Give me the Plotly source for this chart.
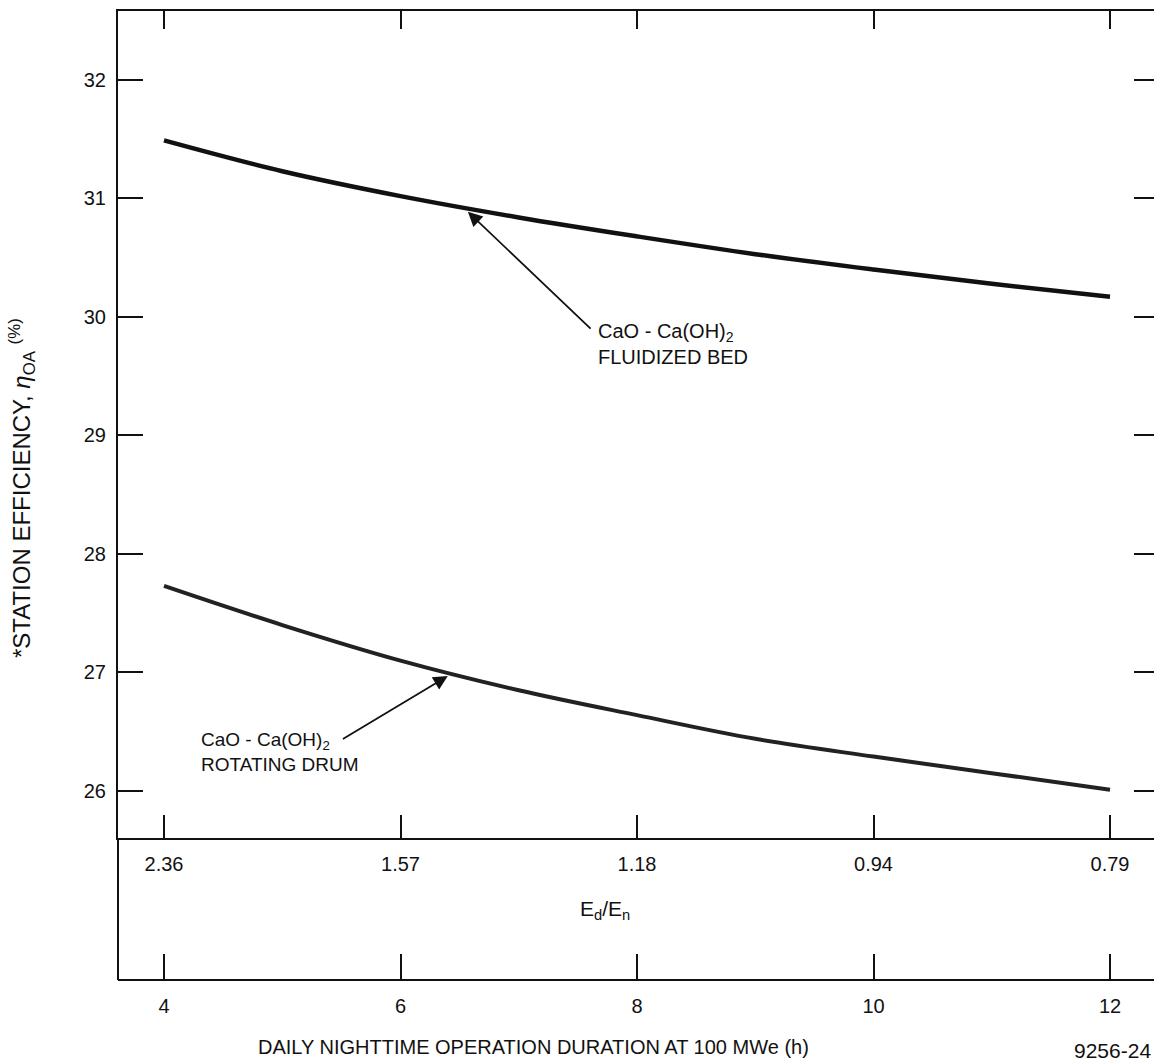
import numpy as np
import plotly.graph_objects as go

# Daily nighttime operation duration at 100 MWe (h)
hours = [4, 5, 6, 7, 8, 9, 10, 11, 12]

# Station efficiency (%) for the two CaO - Ca(OH)2 storage concepts
fluidized_bed = [31.49, 31.23, 31.02, 30.84, 30.68, 30.53, 30.40, 30.28, 30.17]
rotating_drum = [27.73, 27.40, 27.10, 26.85, 26.64, 26.44, 26.29, 26.15, 26.01]

# Ed/En ratio shown at the same duration ticks
ratio_tick_hours = [4, 6, 8, 10, 12]
ratio_tick_labels = ["2.36", "1.57", "1.18", "0.94", "0.79"]

eff_ticks = [26, 27, 28, 29, 30, 31, 32]

FONT = "Liberation Sans, Arial, sans-serif"
INK = "#111111"
W, H = 1154, 1061

X_RANGE = [3.611, 12.372]
Y_RANGE = [25.603, 32.582]
X_DOMAIN = [118 / W, 1.0]
MAIN_Y_DOMAIN = [1 - 838 / H, 1 - 11 / H]
BOTTOM_AXIS_POS = 1 - 980 / H

fig = go.Figure()

fig.add_trace(go.Scatter(
    x=hours, y=fluidized_bed, mode="lines",
    line=dict(color=INK, width=4.5, shape="spline"),
    hoverinfo="skip", showlegend=False,
))
fig.add_trace(go.Scatter(
    x=hours, y=rotating_drum, mode="lines",
    line=dict(color="#222222", width=4, shape="spline"),
    hoverinfo="skip", showlegend=False,
))

# Arrows pointing from each label to its curve
fb_h = 6.57
rd_h = 6.40
arrow_style = dict(showarrow=True, arrowhead=2, arrowsize=1.6, arrowwidth=1.8,
                   arrowcolor=INK, axref="x", ayref="y", xref="x", yref="y", text="")
fig.add_annotation(x=fb_h, y=float(np.interp(fb_h, hours, fluidized_bed)) - 0.03,
                   ax=7.62, ay=29.89, **arrow_style)
fig.add_annotation(x=rd_h, y=float(np.interp(rd_h, hours, rotating_drum)) - 0.03,
                   ax=5.50, ay=26.43, **arrow_style)

fig.add_annotation(x=7.65, y=29.99, xref="x", yref="y", xanchor="left", yanchor="top",
                   align="left", showarrow=False,
                   font=dict(family=FONT, size=20, color=INK),
                   text="CaO - Ca(OH)<sub>2</sub><br>FLUIDIZED BED")
fig.add_annotation(x=4.30, y=26.54, xref="x", yref="y", xanchor="left", yanchor="top",
                   align="left", showarrow=False,
                   font=dict(family=FONT, size=19, color=INK),
                   text="CaO - Ca(OH)<sub>2</sub><br>ROTATING DRUM")

# Axis titles and figure number
fig.add_annotation(x=22 / W, y=1 - 488 / H, xref="paper", yref="paper",
                   xanchor="center", yanchor="middle",
                   showarrow=False, textangle=-90,
                   font=dict(family=FONT, size=24, color=INK),
                   text="*STATION EFFICIENCY, <i>η</i><sub>OA</sub> <sup>(%)</sup>")
fig.add_annotation(x=605 / W, y=1 - 910 / H, xref="paper", yref="paper",
                   xanchor="center", yanchor="middle",
                   showarrow=False, font=dict(family=FONT, size=21, color=INK),
                   text="E<sub>d</sub>/E<sub>n</sub>")
fig.add_annotation(x=533 / W, y=1 - 1047 / H, xref="paper", yref="paper",
                   xanchor="center", yanchor="middle",
                   showarrow=False, font=dict(family=FONT, size=20, color=INK),
                   text="DAILY NIGHTTIME OPERATION DURATION AT 100 MWe (h)")
fig.add_annotation(x=1153 / W, y=1 - 1050 / H, xref="paper", yref="paper",
                   xanchor="right", yanchor="middle", showarrow=False,
                   font=dict(family=FONT, size=21, color=INK),
                   text="9256-24")

tick_font = dict(family=FONT, size=20, color=INK)

fig.update_layout(
    width=W, height=H, autosize=False,
    margin=dict(l=0, r=0, t=0, b=0, pad=0),
    paper_bgcolor="white", plot_bgcolor="white",
    showlegend=False,
    # Main axes: Ed/En labels sit below the lower edge of the efficiency box
    xaxis=dict(
        domain=X_DOMAIN, range=X_RANGE, anchor="y",
        tickmode="array", tickvals=ratio_tick_hours, ticktext=ratio_tick_labels,
        ticks="inside", ticklen=23, tickwidth=2, tickcolor=INK,
        showline=True, linewidth=2, linecolor=INK,
        showgrid=False, zeroline=False, tickfont=tick_font,
        ticklabelstandoff=7,
    ),
    yaxis=dict(
        domain=MAIN_Y_DOMAIN, range=Y_RANGE, anchor="x",
        tickmode="array", tickvals=eff_ticks,
        ticks="inside", ticklen=25, tickwidth=2, tickcolor=INK,
        showline=True, linewidth=2, linecolor=INK,
        showgrid=False, zeroline=False, tickfont=tick_font,
        ticklabelstandoff=6,
    ),
    # Top edge of the box with duration ticks
    xaxis3=dict(
        overlaying="x", side="top", anchor="y", range=X_RANGE,
        tickmode="array", tickvals=ratio_tick_hours,
        ticks="inside", ticklen=18, tickwidth=2, tickcolor=INK,
        showline=True, linewidth=2, linecolor=INK,
        showticklabels=False, showgrid=False, zeroline=False,
    ),
    # Right edge ticks for efficiency
    yaxis2=dict(
        overlaying="y", side="right", anchor="x", range=Y_RANGE,
        tickmode="array", tickvals=eff_ticks,
        ticks="inside", ticklen=20, tickwidth=2, tickcolor=INK,
        showline=False, showticklabels=False, showgrid=False, zeroline=False,
    ),
    # Duration axis at the bottom
    xaxis2=dict(
        overlaying="x", anchor="free", position=BOTTOM_AXIS_POS, side="bottom",
        range=X_RANGE,
        tickmode="array", tickvals=ratio_tick_hours,
        ticks="inside", ticklen=25, tickwidth=2, tickcolor=INK,
        showline=True, linewidth=2, linecolor=INK,
        showgrid=False, zeroline=False, tickfont=tick_font,
        ticklabelstandoff=8,
    ),
    # Left edge continued down to the duration axis
    yaxis3=dict(
        domain=[BOTTOM_AXIS_POS, MAIN_Y_DOMAIN[0]], anchor="free", position=X_DOMAIN[0],
        range=[0, 1], showline=True, linewidth=2, linecolor=INK,
        showticklabels=False, ticks="", showgrid=False, zeroline=False,
    ),
)

# Invisible helper traces so the auxiliary axes are drawn
for xa, ya in (("x3", "y"), ("x", "y2"), ("x2", "y"), ("x", "y3")):
    fig.add_trace(go.Scatter(x=[None], y=[None], xaxis=xa, yaxis=ya,
                             showlegend=False, hoverinfo="skip"))

fig.write_html("out.html", config={"displayModeBar": False})
